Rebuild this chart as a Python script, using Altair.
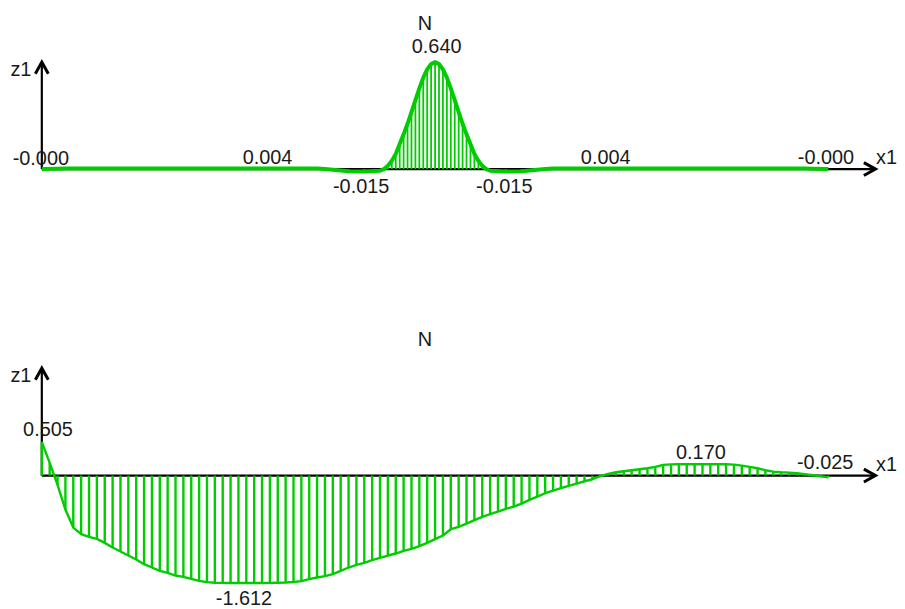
import altair as alt
import pandas as pd

GREEN = "#00cc00"
FONT = "Liberation Sans"

# ---- beam geometry (stations along x1) ----
x_domain = [-0.43, 10.81]
arrow_x_end = 10.6

# ---- top diagram (N) ----
top_x = [0.0, 0.2, 0.3, 1.0, 2.0, 2.9, 3.5, 3.6, 3.8, 3.9, 4.1, 4.3, 4.35,
         4.4, 4.45, 4.5, 4.55, 4.6, 4.65, 4.7, 4.75, 4.8, 4.85, 4.9, 4.95,
         5.0, 5.05, 5.1, 5.15, 5.2, 5.25, 5.3, 5.35, 5.4, 5.45, 5.5, 5.55,
         5.6, 5.65, 5.7, 5.9, 6.1, 6.2, 6.4, 6.5, 7.2, 8.5, 9.7, 9.8, 10.0]
top_n = [0.000, 0.002, 0.004, 0.004, 0.004, 0.004, 0.003, 0.000, -0.008, -0.013,
         -0.015, -0.010, 0.000,
         0.020, 0.050, 0.090, 0.150, 0.208, 0.271, 0.341, 0.413, 0.483, 0.547,
         0.597, 0.629, 0.640, 0.629, 0.597, 0.547, 0.483, 0.413, 0.341, 0.271,
         0.208, 0.150, 0.090, 0.050, 0.020, 0.000, -0.010, -0.015, -0.013,
         -0.008, 0.000, 0.003, 0.004, 0.004, 0.004, 0.002, 0.000]
top_lab_x = [0.0, 2.87, 4.06, 5.02, 5.88, 7.17, 9.97]
top_lab_v = [0.0, 0.004, -0.015, 0.640, -0.015, 0.004, 0.0]
top_lab_t = ["-0.000", "0.004", "-0.015", "0.640", "-0.015", "0.004", "-0.000"]
top_lab_dx = [-1, 0, 0, 0, 0, 0, 0]
top_lab_dy = [-4, -4, 22, -9, 22, -4, -5]
top_ydomain = [-0.772, 0.954]
top_title_v = 0.833

# ---- bottom diagram (N) ----
bot_x = [i / 10 for i in range(101)]
bot_n = [
    0.505, 0.190, -0.140, -0.510, -0.780, -0.880, -0.920, -0.950, -1.010, -1.080,
    -1.140, -1.200, -1.260, -1.330, -1.380, -1.430, -1.460, -1.500, -1.520, -1.550,
    -1.580, -1.600, -1.608, -1.611, -1.612, -1.612, -1.612, -1.612, -1.612, -1.611,
    -1.609, -1.605, -1.598, -1.585, -1.555, -1.530, -1.510, -1.480, -1.430, -1.380,
    -1.340, -1.310, -1.270, -1.235, -1.200, -1.170, -1.130, -1.100, -1.060, -1.010,
    -0.955, -0.900, -0.805, -0.770, -0.720, -0.670, -0.620, -0.580, -0.540, -0.500,
    -0.466, -0.420, -0.365, -0.315, -0.265, -0.225, -0.190, -0.155, -0.120, -0.085,
    -0.055, -0.010, 0.025, 0.050, 0.065, 0.080, 0.095, 0.110, 0.130, 0.160,
    0.168, 0.170, 0.170, 0.170, 0.170, 0.170, 0.170, 0.170, 0.165, 0.150,
    0.130, 0.110, 0.080, 0.060, 0.050, 0.045, 0.035, 0.020, 0.005, -0.010,
    -0.025]
bot_lab_x = [0.04, 2.57, 8.38, 9.96]
bot_lab_v = [0.505, -1.612, 0.170, -0.025]
bot_lab_t = ["0.505", "-1.612", "0.170", "-0.025"]
bot_lab_dx = [3, 0, 0, 0]
bot_lab_dy = [-6, 22, -5, -8]
bot_ydomain = [-1.858, 2.664]
bot_title_v = 1.948

title_s = 4.87
UP = "M-0.5,0.9L0,0L0.5,0.9"
RIGHT = "M-0.9,-0.5L0,0L-0.9,0.5"


def panel(cx, cn, lx, lv, lt, ldx, ldy, ydom, title_v, h, line_w, hatch_w):
    xs = alt.Scale(domain=x_domain, nice=False, zero=False)
    ys = alt.Scale(domain=ydom, nice=False, zero=False)
    zmax = max(abs(v) for v in cn)
    curve = pd.DataFrame({"s": cx, "n": cn})
    axes = pd.DataFrame({"s0": [0.0, 0.0], "v0": [0.0, 0.0],
                         "s1": [0.0, arrow_x_end], "v1": [zmax, 0.0]})
    all_s = lx + [0.0, arrow_x_end, title_s]
    all_v = lv + [zmax, 0.0, title_v]
    all_t = lt + ["z1", "x1", "N"]
    all_dx = ldx + [-21, 11, 0]
    all_dy = ldy + [14, -5, 0]
    X = lambda f: alt.X(f, type="quantitative", scale=xs, axis=None)
    Y = lambda f: alt.Y(f, type="quantitative", scale=ys, axis=None)

    axis_rules = alt.Chart(axes).mark_rule(color="black", strokeWidth=2.2).encode(
        x=X("s0"), y=Y("v0"), x2="s1", y2="v1")
    hatch = alt.Chart(curve).mark_rule(color=GREEN, strokeWidth=hatch_w).encode(
        x=X("s"), y=Y("n"), y2=alt.datum(0))
    outline = alt.Chart(curve).mark_line(color=GREEN, strokeWidth=line_w,
                                         strokeJoin="round").encode(
        x=X("s"), y=Y("n"), order="s:Q")
    head_up = alt.Chart(axes.iloc[[0]]).mark_point(
        shape=UP, size=676, filled=False, color="black", strokeWidth=3,
        opacity=1, strokeJoin="miter").encode(x=X("s1"), y=Y("v1"))
    head_right = alt.Chart(axes.iloc[[1]]).mark_point(
        shape=RIGHT, size=676, filled=False, color="black", strokeWidth=3,
        opacity=1, strokeJoin="miter").encode(x=X("s1"), y=Y("v1"))
    layers = [axis_rules, hatch, outline, head_up, head_right]
    for s, v, t, dx, dy in zip(all_s, all_v, all_t, all_dx, all_dy):
        df = pd.DataFrame({"s": [s], "v": [v], "t": [t]})
        layers.append(alt.Chart(df).mark_text(
            font=FONT, fontSize=20, color="#1a1a1a", align="center",
            baseline="alphabetic", dx=dx, dy=dy).encode(
            x=X("s"), y=Y("v"), text="t:N"))
    return alt.layer(*layers).properties(width=889, height=h)


top = panel(top_x, top_n, top_lab_x, top_lab_v, top_lab_t, top_lab_dx,
            top_lab_dy, top_ydomain, top_title_v, 290, 4, 1.8)
bottom = panel(bot_x, bot_n, bot_lab_x, bot_lab_v, bot_lab_t, bot_lab_dx,
               bot_lab_dy, bot_ydomain, bot_title_v, 303, 2.4, 2.4)

chart = alt.vconcat(top, bottom, spacing=0, bounds="flush").properties(
    padding=0, background="white"
).configure_view(stroke=None)

chart.save("out.html", embed_options={"renderer": "svg", "actions": False})
